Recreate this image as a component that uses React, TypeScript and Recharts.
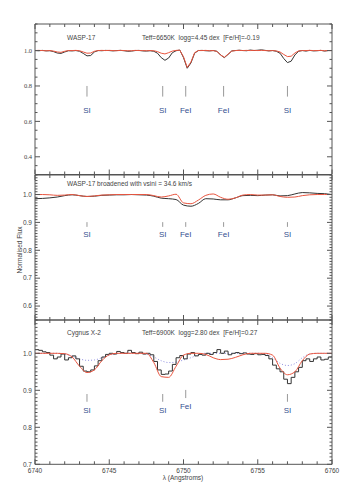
import { LineChart, Line, XAxis, YAxis, ReferenceLine, ReferenceDot } from "recharts";

// wavelength grids (Angstroms)
const waveQ = [
  6740, 6740.25, 6740.5, 6740.75, 6741, 6741.25, 6741.5, 6741.75, 6742, 6742.25, 6742.5, 6742.75,
  6743, 6743.25, 6743.5, 6743.75, 6744, 6744.25, 6744.5, 6744.75, 6745, 6745.25, 6745.5, 6745.75,
  6746, 6746.25, 6746.5, 6746.75, 6747, 6747.25, 6747.5, 6747.75, 6748, 6748.25, 6748.5, 6748.75,
  6749, 6749.25, 6749.5, 6749.75, 6750, 6750.25, 6750.5, 6750.75, 6751, 6751.25, 6751.5, 6751.75,
  6752, 6752.25, 6752.5, 6752.75, 6753, 6753.25, 6753.5, 6753.75, 6754, 6754.25, 6754.5, 6754.75,
  6755, 6755.25, 6755.5, 6755.75, 6756, 6756.25, 6756.5, 6756.75, 6757, 6757.25, 6757.5, 6757.75,
  6758, 6758.25, 6758.5, 6758.75, 6759, 6759.25, 6759.5, 6759.75, 6760,
];
const waveH = [
  6740, 6740.5, 6741, 6741.5, 6742, 6742.5, 6743, 6743.5, 6744, 6744.5, 6745, 6745.5, 6746, 6746.5,
  6747, 6747.5, 6748, 6748.5, 6749, 6749.5, 6750, 6750.5, 6751, 6751.5, 6752, 6752.5, 6753, 6753.5,
  6754, 6754.5, 6755, 6755.5, 6756, 6756.5, 6757, 6757.5, 6758, 6758.5, 6759, 6759.5, 6760,
];

// panel 1: WASP-17 observed / model
const wasp17Obs = [
  1.0, 0.999, 1.001, 0.998, 0.999, 0.994, 0.986, 0.984, 0.992, 0.999, 0.998, 1.0,
  0.996, 0.984, 0.97, 0.972, 0.992, 1.0, 0.999, 1.001, 1.0, 0.998, 1.0, 1.001,
  0.999, 0.996, 0.997, 1.0, 1.001, 0.998, 0.997, 0.999, 0.996, 0.985, 0.96, 0.945,
  0.958, 0.988, 0.999, 1.003, 0.96, 0.9, 0.93, 0.985, 1.0, 1.001, 0.999, 0.998,
  1.0, 0.996, 0.975, 0.96, 0.978, 0.998, 1.0, 1.002, 1.0, 0.999, 1.003, 1.0,
  1.002, 1.004, 1.001, 0.998, 1.0, 0.996, 0.985, 0.955, 0.932, 0.94, 0.975, 0.996,
  1.0, 0.997, 1.001, 0.998, 0.999, 1.001, 0.997, 1.0, 1.0,
];
const wasp17Model = [
  1.0, 1.001, 1.0, 0.999, 1.0, 0.997, 0.992, 0.99, 0.996, 1.0, 1.0, 1.001,
  0.999, 0.992, 0.985, 0.986, 0.996, 1.0, 1.001, 1.0, 1.001, 1.0, 0.999, 1.001,
  1.0, 0.999, 0.999, 1.001, 1.0, 1.0, 0.999, 1.0, 0.999, 0.994, 0.985, 0.981,
  0.988, 0.997, 1.001, 1.002, 0.965, 0.905, 0.935, 0.988, 1.0, 1.0, 1.001, 0.999,
  1.0, 0.995, 0.975, 0.962, 0.98, 0.997, 1.0, 1.001, 1.0, 1.001, 1.0, 1.001,
  1.0, 1.001, 1.0, 0.999, 1.0, 0.998, 0.992, 0.978, 0.966, 0.968, 0.986, 0.998,
  1.0, 1.0, 1.001, 1.0, 1.0, 1.001, 0.999, 1.0, 1.0,
];

// panel 2: broadened
const broadObs = [
  0.985, 0.986, 0.988, 0.991, 0.996, 0.999, 0.996, 0.993, 0.994, 0.997, 0.998, 0.999, 0.999, 1.0,
  0.999, 0.998, 0.994, 0.987, 0.985, 0.982, 0.962, 0.958, 0.968, 0.985, 0.984, 0.981, 0.981, 0.988,
  0.996, 0.997, 0.996, 0.998, 0.999, 0.995, 0.996, 1.002, 1.007, 1.006, 1.004, 1.003, 1.0,
];
const broadModel = [
  1.0, 1.0, 0.999, 0.997, 0.998, 1.0, 0.996, 0.993, 0.995, 0.998, 0.999, 1.0, 1.0, 1.0,
  1.0, 1.0, 0.996, 0.991, 0.995, 1.001, 0.97, 0.967, 0.98, 0.997, 1.002, 0.99, 0.983, 0.988,
  0.998, 1.0, 0.998, 0.998, 0.999, 0.993, 0.99, 0.991, 0.996, 0.999, 1.0, 1.0, 1.0,
];

// panel 3: Cygnus X-2
const cygObs = [
  1.01, 1.008, 1.004, 1.002, 0.995, 0.985, 0.99, 0.998, 0.982, 0.988, 0.993, 0.985,
  0.965, 0.952, 0.95, 0.955, 0.966, 0.98, 0.99, 0.997, 1.0, 0.998, 1.005, 1.002,
  1.0, 1.008, 1.002, 0.999, 1.003, 0.998, 1.0, 0.996, 0.978, 0.955, 0.943, 0.944,
  0.952, 0.97, 0.988, 0.994, 0.985, 0.998, 1.002, 0.993, 0.997, 0.995, 1.0, 0.997,
  1.002, 1.01, 1.0, 1.006, 0.996, 1.0, 1.002, 0.999, 1.001, 0.998, 0.997, 0.999,
  0.996, 0.997, 0.994, 0.985, 0.968, 0.958, 0.95, 0.93, 0.918, 0.935, 0.95, 0.962,
  0.98, 0.985, 0.978, 0.985, 0.99, 0.982, 0.984, 0.99, 0.992,
];
const cygModel = [
  1.0, 1.0, 1.0, 1.0, 0.999, 0.99, 0.965, 0.948, 0.955, 0.98, 0.996, 1.0, 1.0, 1.0,
  1.0, 1.0, 0.975, 0.937, 0.935, 0.965, 0.995, 1.0, 1.0, 0.997, 0.988, 0.983, 0.984, 0.989,
  0.996, 1.0, 1.0, 1.0, 0.995, 0.96, 0.942, 0.95, 0.98, 0.998, 1.0, 1.0, 1.0,
];
const cygModel2 = [
  1.0, 1.0, 1.0, 1.0, 0.998, 0.992, 0.985, 0.981, 0.982, 0.988, 0.995, 0.999, 1.0, 1.0,
  1.0, 0.998, 0.99, 0.98, 0.975, 0.976, 0.982, 0.988, 0.996, 1.0, 1.0, 1.0, 1.0, 1.0,
  1.0, 1.0, 1.0, 0.998, 0.988, 0.973, 0.967, 0.972, 0.988, 0.998, 1.0, 1.0, 1.0,
];

// line identifications
const lineWave = [6743.5, 6748.6, 6750.15, 6752.7, 6757.0];
const lineName = ["SI", "SI", "FeI", "FeI", "SI"];
const cygLineWave = [6743.5, 6748.6, 6750.15, 6757.0];
const cygLineName = ["SI", "SI", "FeI", "SI"];

const xMajor = [6740, 6745, 6750, 6755, 6760];
const y1Major = [0.4, 0.6, 0.8, 1.0];
const y2Major = [0.6, 0.7, 0.8, 0.9, 1.0];
const y3Major = [0.7, 0.8, 0.9, 1.0];

const steps = (a: number, b: number, s: number) => {
  const out: number[] = [];
  for (let v = a; v <= b + 1e-9; v += s) out.push(Math.round(v * 1000) / 1000);
  return out;
};

const SANS = "'Liberation Sans', Arial, sans-serif";
const SERIF = "'Liberation Serif', 'DejaVu Serif', serif";
const FRAME = "#555";
const TXT = "#444";
const M = 3;

const isMajor = (v: number, majors: number[]) => majors.some((m) => Math.abs(m - v) < 1e-6);

function leftTick(majors: number[], font: string) {
  return (p: any) => {
    const v = p.payload.value;
    const ax = p.x + M;
    const major = isMajor(v, majors);
    return (
      <g>
        <line x1={ax} x2={ax + (major ? 5 : 2.5)} y1={p.y} y2={p.y} stroke={FRAME} />
        {major && (
          <text x={p.x} y={p.y} dy="0.35em" textAnchor="end" fontSize={6.5} fill={TXT} fontFamily={font}>
            {v.toFixed(1)}
          </text>
        )}
      </g>
    );
  };
}
function rightTick(majors: number[]) {
  return (p: any) => {
    const ax = p.x - M;
    const major = isMajor(p.payload.value, majors);
    return <line x1={ax} x2={ax - (major ? 5 : 2.5)} y1={p.y} y2={p.y} stroke={FRAME} />;
  };
}
function topTick(p: any) {
  const ay = p.y + M;
  const major = isMajor(p.payload.value, xMajor);
  return <line x1={p.x} x2={p.x} y1={ay} y2={ay + (major ? 5 : 3)} stroke={FRAME} />;
}
function bottomTick(labels: boolean) {
  return (p: any) => {
    const ay = p.y - M;
    const v = p.payload.value;
    const major = isMajor(v, xMajor);
    return (
      <g>
        <line x1={p.x} x2={p.x} y1={ay} y2={ay - (major ? 5 : 3)} stroke={FRAME} />
        {labels && major && (
          <text x={p.x} y={ay + 8.5} textAnchor="middle" fontSize={6.5} fill={TXT} fontFamily={SANS}>
            {v}
          </text>
        )}
      </g>
    );
  };
}

type Series = { w: number[]; f: number[]; color: string; dash?: string; step?: boolean; mono?: boolean };
type Marks = { w: number[]; name: string[]; tick: [number, number][]; label: number[] };

function Panel(props: {
  top: number;
  height: number;
  margin: { top: number; bottom: number };
  xAxisH: number;
  yDomain: [number, number];
  yTicks: number[];
  yMajor: number[];
  yFont: string;
  xLabels: boolean;
  series: Series[];
  marks: Marks;
}) {
  const { top, height, margin, xAxisH, yDomain, yTicks, yMajor, yFont, xLabels, series, marks } = props;
  const xTicks = steps(6740, 6760, 1);
  return (
    <div style={{ position: "absolute", left: 0, top, width: 350, height }}>
      <LineChart width={350} height={height} margin={{ top: margin.top, bottom: margin.bottom, left: 5, right: 3 }}>
        <XAxis
          dataKey="w"
          type="number"
          domain={[6740, 6760]}
          allowDataOverflow
          ticks={xTicks}
          interval={0}
          height={xAxisH}
          tickSize={0}
          tickMargin={M}
          tick={bottomTick(xLabels)}
          axisLine={{ stroke: FRAME }}
        />
        <XAxis
          xAxisId="top"
          orientation="top"
          dataKey="w"
          type="number"
          domain={[6740, 6760]}
          allowDataOverflow
          ticks={xTicks}
          interval={0}
          height={5}
          tickSize={0}
          tickMargin={M}
          tick={topTick}
          axisLine={{ stroke: FRAME }}
        />
        <YAxis
          type="number"
          domain={yDomain}
          allowDataOverflow
          ticks={yTicks}
          interval={0}
          width={30}
          tickSize={0}
          tickMargin={M}
          tick={leftTick(yMajor, yFont)}
          axisLine={{ stroke: FRAME }}
        />
        <YAxis
          yAxisId="right"
          orientation="right"
          type="number"
          domain={yDomain}
          allowDataOverflow
          ticks={yTicks}
          interval={0}
          width={15}
          tickSize={0}
          tickMargin={M}
          tick={rightTick(yMajor)}
          axisLine={{ stroke: FRAME }}
        />
        {series.map((s, i) => (
          <Line
            key={i}
            data={s.w.map((w, j) => ({ w, f: s.f[j] }))}
            dataKey="f"
            type={s.step ? "stepAfter" : s.mono ? "monotone" : "linear"}
            stroke={s.color}
            strokeWidth={1}
            strokeDasharray={s.dash}
            dot={false}
            isAnimationActive={false}
          />
        ))}
        {marks.w.map((w, i) => (
          <ReferenceLine
            key={"l" + i}
            segment={[
              { x: w, y: marks.tick[i][0] },
              { x: w, y: marks.tick[i][1] },
            ]}
            stroke="#999"
            strokeWidth={1}
          />
        ))}
        {marks.w.map((w, i) => (
          <ReferenceDot
            key={"d" + i}
            x={w}
            y={marks.label[i]}
            r={0}
            fill="none"
            stroke="none"
            label={{ value: marks.name[i], position: "center", fill: "#34508f", fontSize: 8, fontFamily: SANS }}
          />
        ))}
      </LineChart>
    </div>
  );
}

const textStyle = (left: number, top: number) =>
  ({ position: "absolute", left, top, fontSize: 6.5, color: TXT, fontFamily: SANS, whiteSpace: "nowrap", lineHeight: "8px" }) as const;

export default function App() {
  return (
    <div style={{ position: "absolute", left: 0, top: 0, width: 350, height: 500, background: "#fff" }}>
      <Panel
        top={0}
        height={180}
        margin={{ top: 19, bottom: 0.5 }}
        xAxisH={5}
        yDomain={[0.3, 1.15]}
        yTicks={steps(0.3, 1.15, 0.05)}
        yMajor={y1Major}
        yFont={SERIF}
        xLabels={false}
        series={[
          { w: waveQ, f: wasp17Obs, color: "#333" },
          { w: waveQ, f: wasp17Model, color: "#e8553f" },
        ]}
        marks={{
          w: lineWave,
          name: lineName,
          tick: lineWave.map(() => [0.8, 0.74] as [number, number]),
          label: lineWave.map(() => 0.665),
        }}
      />
      <Panel
        top={170}
        height={155}
        margin={{ top: 0, bottom: 0 }}
        xAxisH={5}
        yDomain={[0.55, 1.07]}
        yTicks={steps(0.55, 1.07, 0.01)}
        yMajor={y2Major}
        yFont={SANS}
        xLabels={false}
        series={[
          { w: waveH, f: broadObs, color: "#333", mono: true },
          { w: waveH, f: broadModel, color: "#e8553f", mono: true },
        ]}
        marks={{
          w: lineWave,
          name: lineName,
          tick: lineWave.map(() => [0.901, 0.884] as [number, number]),
          label: lineWave.map(() => 0.857),
        }}
      />
      <Panel
        top={315}
        height={185}
        margin={{ top: 0, bottom: 15.7 }}
        xAxisH={20}
        yDomain={[0.7, 1.09]}
        yTicks={steps(0.7, 1.09, 0.01)}
        yMajor={y3Major}
        yFont={SANS}
        xLabels={true}
        series={[
          { w: waveH, f: cygModel2, color: "#8f8fe0", dash: "1 2", mono: true },
          { w: waveQ, f: cygObs, color: "#333", step: true },
          { w: waveH, f: cygModel, color: "#e8553f", mono: true },
        ]}
        marks={{
          w: cygLineWave,
          name: cygLineName,
          tick: [
            [0.89, 0.869],
            [0.89, 0.869],
            [0.901, 0.879],
            [0.89, 0.869],
          ],
          label: [0.846, 0.846, 0.857, 0.846],
        }}
      />
      <div style={textStyle(67, 34)}>WASP-17</div>
      <div style={textStyle(142, 34)}>Teff=6650K&nbsp; logg=4.45 dex&nbsp; [Fe/H]=-0.19</div>
      <div style={textStyle(67, 180)}>WASP-17 broadened with vsini = 34.6 km/s</div>
      <div style={textStyle(67, 329)}>Cygnus X-2</div>
      <div style={textStyle(142, 329)}>Teff=6900K&nbsp; logg=2.80 dex&nbsp; [Fe/H]=0.27</div>
      <div style={{ ...textStyle(0, 0), left: -10, top: 246, width: 60, textAlign: "center", transform: "rotate(-90deg)" }}>
        Normalised Flux
      </div>
      <div style={{ ...textStyle(0, 0), left: 143, top: 474, width: 80, textAlign: "center" }}>λ (Angstroms)</div>
    </div>
  );
}
